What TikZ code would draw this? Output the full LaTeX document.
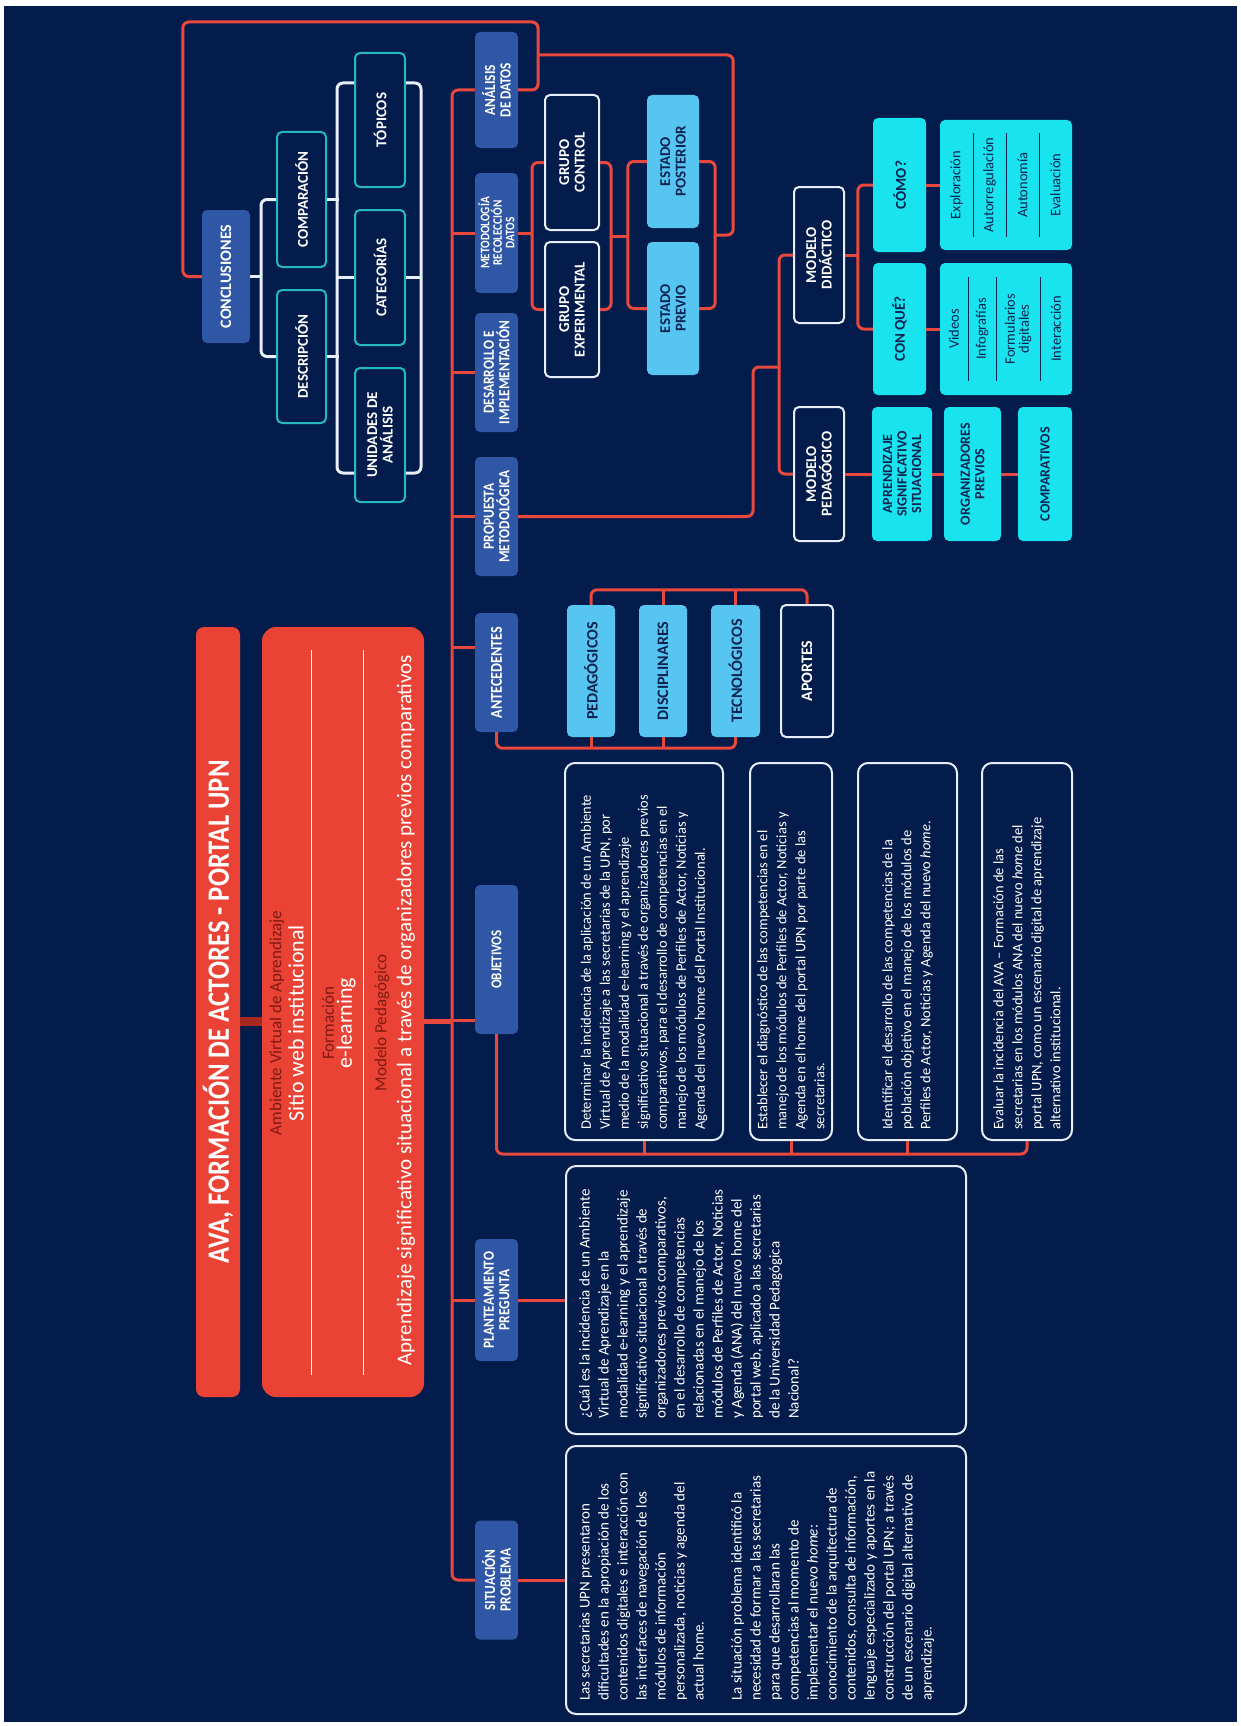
\documentclass[tikz,border=0pt]{standalone}
\usepackage{fontspec}
\setmainfont{Carlito}
\newfontfamily\condfont[FakeStretch=0.86]{Carlito}
\usetikzlibrary{calc}
\hyphenpenalty=10000

\definecolor{bgnavy}{HTML}{041C4B}
\definecolor{topicblue}{HTML}{2F57A6}
\definecolor{skyfill}{HTML}{57C5F2}
\definecolor{cyanfill}{HTML}{18E3EE}
\definecolor{branchred}{HTML}{E8483D}
\definecolor{titlered}{HTML}{EA4335}
\definecolor{darkred}{HTML}{7E1A12}
\definecolor{joinred}{HTML}{A8281F}
\definecolor{inknavy}{HTML}{0D2350}
\definecolor{tealline}{HTML}{26B7C4}
\definecolor{paleline}{HTML}{E6EEF8}

\begin{document}
\begin{tikzpicture}[x=1pt, y=-1pt,
  box/.style={rotate=90, align=center, inner sep=2pt, rounded corners=5pt},
  topic/.style={box, fill=topicblue, text=white, minimum width=119, minimum height=43, font=\condfont\bfseries\fontsize{15.5}{15.5}\selectfont},
  outbox/.style={box, fill=bgnavy, draw=paleline, line width=2pt, text=white, font=\bfseries\fontsize{15}{15.5}\selectfont},
  tealbox/.style={outbox, draw=tealline},
  skybox/.style={box, fill=skyfill, text=inknavy, font=\bfseries\fontsize{16}{16}\selectfont},
  cyanbox/.style={box, fill=cyanfill, text=inknavy, font=\bfseries\fontsize{14}{14.5}\selectfont},
  textbox/.style={rotate=90, fill=bgnavy, draw=paleline, line width=2pt, rounded corners=10pt},
  bodytext/.style={rotate=90, anchor=north west, align=left, inner sep=0pt, text=white, font=\fontsize{15}{19}\selectfont},
  sublabel/.style={rotate=90, text=darkred, font=\fontsize{17}{17}\selectfont},
  subvalue/.style={rotate=90, text=white, font=\fontsize{22}{22}\selectfont},
  listitem/.style={rotate=90, align=center, text=inknavy, font=\fontsize{14.5}{14}\selectfont},
  divider/.style={draw=inknavy, line width=1pt},
  branch/.style={draw=branchred, line width=3pt, rounded corners=6pt},
  wline/.style={draw=paleline, line width=3pt, rounded corners=6pt}]

\useasboundingbox (0,0) rectangle (1241,1726);
\fill[white] (0,0) rectangle (1241,1726);
\fill[bgnavy] (4,6) rectangle (1237,1722);

% central topic

\node[box, fill=titlered, text=white, rounded corners=8pt, minimum width=770, minimum height=44, font=\condfont\bfseries\fontsize{31}{31}\selectfont] (tit) at (218,1012) {AVA, FORMACIÓN DE ACTORES - PORTAL UPN};
\node[box, fill=titlered, rounded corners=14pt, minimum width=770, minimum height=162] (cen) at (343,1012) {};
\node[sublabel] at (277,1023) {Ambiente Virtual de Aprendizaje};
\node[subvalue] at (296,1023) {Sitio web institucional};
\node[sublabel] at (328,1023) {Formación};
\node[subvalue] at (346,1023) {e-learning};
\node[sublabel] at (382,1023) {Modelo Pedagógico};
\node[subvalue, font=\fontsize{21}{21}\selectfont] at (406,1010) {Aprendizaje significativo situacional a través de organizadores previos comparativos};
\draw[white, line width=0.8pt] (311,650) -- (311,1375);
\draw[white, line width=0.8pt] (363,650) -- (363,1375);

% conclusiones

\node[box, fill=topicblue, text=white, minimum width=133, minimum height=48, font=\bfseries\fontsize{16}{16}\selectfont] (con) at (226,276.5) {CONCLUSIONES};
\node[tealbox, minimum width=135, minimum height=49] (comp) at (301.5,199.5) {COMPARACIÓN};
\node[tealbox, minimum width=133, minimum height=49] (desc) at (301.5,356.5) {DESCRIPCIÓN};
\node[tealbox, minimum width=134, minimum height=50] (topi) at (380,120) {TÓPICOS};
\node[tealbox, minimum width=135, minimum height=50] (cat) at (380,277.5) {CATEGORÍAS};
\node[tealbox, minimum width=134, minimum height=50] (uni) at (380,435) {UNIDADES DE\\ANÁLISIS};

% main topics

\coordinate (trunk) at (452,0);
\node[topic, minimum width=116] (ana) at (496.5,90) {ANÁLISIS\\DE DATOS};
\node[topic, minimum width=120, font=\condfont\bfseries\fontsize{13}{12.5}\selectfont] (met) at (496.5,233) {METODOLOGÍA\\RECOLECCIÓN\\DATOS};
\node[topic] (des) at (496.5,372.5) {DESARROLLO E\\IMPLEMENTACIÓN};
\node[topic] (pro) at (496.5,516.5) {PROPUESTA\\METODOLÓGICA};
\node[topic, font=\condfont\bfseries\fontsize{16.5}{16.5}\selectfont] (ant) at (496.5,672.5) {ANTECEDENTES};
\node[topic, minimum width=149, font=\condfont\bfseries\fontsize{15}{15}\selectfont] (obj) at (496.5,959.5) {OBJETIVOS};
\node[topic, minimum width=122] (pla) at (496.5,1300) {PLANTEAMIENTO\\PREGUNTA};
\node[topic] (sit) at (496.5,1580) {SITUACIÓN\\PROBLEMA};

% metodologia

\node[outbox, minimum width=135, minimum height=54] (gc) at (572,162.5) {GRUPO\\CONTROL};
\node[outbox, minimum width=135, minimum height=54] (ge) at (572,309.5) {GRUPO\\EXPERIMENTAL};
\node[skybox, minimum width=133, minimum height=52, font=\bfseries\fontsize{15}{15.5}\selectfont] (ep) at (673,161.5) {ESTADO\\POSTERIOR};
\node[skybox, minimum width=133, minimum height=52, font=\bfseries\fontsize{15}{15.5}\selectfont] (epr) at (673,308.5) {ESTADO\\PREVIO};

% modelos

\node[outbox, minimum width=136, minimum height=50] (md) at (819,255) {MODELO\\DIDÁCTICO};
\node[outbox, minimum width=134, minimum height=50] (mp) at (819,474) {MODELO\\PEDAGÓGICO};
\node[cyanbox, minimum width=134, minimum height=53, font=\bfseries\fontsize{15}{15}\selectfont] (como) at (899.5,185) {CÓMO?};
\node[cyanbox, minimum width=132, minimum height=53, font=\bfseries\fontsize{15}{15}\selectfont] (conq) at (899.5,329) {CON QUÉ?};
\node[cyanbox, minimum width=130, minimum height=132] (l1) at (1006,185) {};
\node[cyanbox, minimum width=132, minimum height=132] (l2) at (1006,329) {};
\node[cyanbox, minimum width=134, minimum height=60] (apr) at (902,474) {APRENDIZAJE\\SIGNIFICATIVO\\SITUACIONAL};
\node[cyanbox, minimum width=134, minimum height=57] (org) at (972.5,474) {ORGANIZADORES\\PREVIOS};
\node[cyanbox, minimum width=134, minimum height=54] (cmp) at (1045,474) {COMPARATIVOS};

\node[listitem] at (956.5,185) {Exploración};
\node[listitem] at (989.5,185) {Autorregulación};
\node[listitem] at (1022.5,185) {Autonomía};
\node[listitem] at (1055.5,185) {Evaluación};
\draw[divider] (973,133) -- (973,237);
\draw[divider] (1006,133) -- (1006,237);
\draw[divider] (1039,133) -- (1039,237);

\node[listitem] at (954,329) {Videos};
\node[listitem] at (982,329) {Infografías};
\node[listitem] at (1018,329) {Formularios\\digitales};
\node[listitem] at (1056,329) {Interacción};
\draw[divider] (968,277) -- (968,381);
\draw[divider] (996,277) -- (996,381);
\draw[divider] (1040,277) -- (1040,381);

% antecedentes

\node[skybox, minimum width=132, minimum height=48] (ped) at (591,671) {PEDAGÓGICOS};
\node[skybox, minimum width=132, minimum height=48] (dis) at (663,671) {DISCIPLINARES};
\node[skybox, minimum width=132, minimum height=49] (tec) at (735.5,671) {TECNOLÓGICOS};
\node[outbox, minimum width=132, minimum height=52, font=\bfseries\fontsize{16}{16}\selectfont] (apo) at (807,671) {APORTES};

% objetivos

\node[textbox, minimum width=377, minimum height=158] (o1) at (644,951.5) {};
\node[textbox, minimum width=377, minimum height=82] (o2) at (791,951.5) {};
\node[textbox, minimum width=377, minimum height=99] (o3) at (907.5,951.5) {};
\node[textbox, minimum width=377, minimum height=90] (o4) at (1027,951.5) {};
\node[bodytext, anchor=west, font=\fontsize{14.5}{19}\selectfont] at ([yshift=11pt]o1.west) {Determinar la incidencia de la aplicación de un Ambiente\\Virtual de Aprendizaje a las secretarias de la UPN, por\\medio de la modalidad e-learning y el aprendizaje\\significativo situacional a través de organizadores previos\\comparativos, para el desarrollo de competencias en el\\manejo de los módulos de Perfiles de Actor, Noticias y\\Agenda del nuevo home del Portal Institucional.};
\node[bodytext, anchor=west, font=\fontsize{14.5}{19}\selectfont] at ([yshift=11pt]o2.west) {Establecer el diagnóstico de las competencias en el\\manejo de los módulos de Perfiles de Actor, Noticias y\\Agenda en el home del portal UPN por parte de las\\secretarias.};
\node[bodytext, anchor=west, font=\fontsize{14.5}{19}\selectfont] at ([yshift=11pt]o3.west) {Identificar el desarrollo de las competencias de la\\población objetivo en el manejo de los módulos de\\Perfiles de Actor, Noticias y Agenda del nuevo \textit{home}.};
\node[bodytext, anchor=west, font=\fontsize{14.5}{19}\selectfont] at ([yshift=11pt]o4.west) {Evaluar la incidencia del AVA – Formación de las\\secretarias en los módulos ANA del nuevo \textit{home} del\\portal UPN, como un escenario digital de aprendizaje\\alternativo institucional.};

% pregunta y situacion

\node[textbox, minimum width=268, minimum height=400] (q) at (766,1300) {};
\node[bodytext] at ([shift={(14,-16)}]q.north west) {¿Cuál es la incidencia de un Ambiente\\Virtual de Aprendizaje en la\\modalidad e-learning y el aprendizaje\\significativo situacional a través de\\organizadores previos comparativos,\\en el desarrollo de competencias\\relacionadas en el manejo de los\\módulos de Perfiles de Actor, Noticias\\y Agenda (ANA) del nuevo home del\\portal web, aplicado a las secretarias\\de la Universidad Pedagógica\\Nacional?};
\node[textbox, minimum width=268, minimum height=400] (s) at (766,1580) {};
\node[bodytext] at ([shift={(14,-14)}]s.north west) {Las secretarias UPN presentaron\\dificultades en la apropiación de los\\contenidos digitales e interacción con\\las interfaces de navegación de los\\módulos de información\\personalizada, noticias y agenda del\\actual home.\\[19pt]La situación problema identificó la\\necesidad de formar a las secretarias\\para que desarrollaran las\\competencias al momento de\\implementar el nuevo \textit{home}:\\conocimiento de la arquitectura de\\contenidos, consulta de información,\\lenguaje especializado y aportes en la\\construcción del portal UPN; a través\\de un escenario digital alternativo de\\aprendizaje.};

% connectors

\draw[joinred, line width=9pt] ([yshift=-9pt]tit.south) -- ([yshift=-9pt]cen.north);
\draw[branch, line width=5pt] ([yshift=-9pt]cen.south) -- ([yshift=-9pt]cen.south -| trunk);
\draw[branch] (ana.north) -| (trunk |- sit.north) -- (sit.north);
\draw[branch] (met.north) -- (met.north -| trunk);
\draw[branch] (des.north) -- (des.north -| trunk);
\draw[branch] (pro.north) -- (pro.north -| trunk);
\draw[branch] ([yshift=25pt]ant.north) -- ([yshift=25pt]ant.north -| trunk);
\draw[branch] ([yshift=-61pt]obj.north) -- ([yshift=-61pt]obj.north -| trunk);
\draw[branch] (pla.north) -- (pla.north -| trunk);

\draw[branch] (ana.south) -| (538,22) -| ([xshift=-19pt]con.north) -- (con.north);
\coordinate (cj) at (538,55);

\draw[wline] (con.south) -- ++(12,0);
\draw[wline] (comp.north) -- ++(-15,0) |- (desc.north);
\draw[wline] (comp.south) -- ++(12,0);
\draw[wline] (desc.south) -- ++(12,0);
\draw[wline] ([yshift=37pt]topi.north) -- ++(-17,0) |- ([yshift=-38pt]uni.north);
\draw[wline] (cat.north) -- ++(-17,0);
\draw[wline] ([yshift=37pt]topi.south) -- ++(15,0) |- ([yshift=-38pt]uni.south);
\draw[wline] (cat.south) -- ++(15,0);

\draw[branch] (met.south) -- ++(15,0);
\draw[branch] (gc.north) -- ++(-12,0) |- (ge.north);
\draw[branch] (gc.south) -- ++(11,0) |- (ge.south);
\draw[branch] ($(gc.south)!0.5!(ge.south)$) ++(11,0) -- ++(18,0);
\draw[branch] (ep.north) -- ++(-19,0) |- (epr.north);
\draw[branch] (ep.south) -- ++(16,0) |- (epr.south);
\draw[branch] ($(ep.south)!0.5!(epr.south)$) ++(16,0) -- ++(18,0) |- (cj);

\draw[branch] (pro.south) -| (753,367) -- ++(27,0);
\draw[branch] (md.north) -- ++(-14,0) |- (mp.north);
\draw[branch] (md.south) -- ++(14,0);
\draw[branch] (como.north) -- ++(-15,0) |- (conq.north);
\draw[branch] (como.south) -- (l1.north);
\draw[branch] (conq.south) -- (l2.north);
\draw[branch] (mp.south) -- (apr.north);
\draw[branch] (apr.south) -- (org.north);
\draw[branch] (org.south) -- (cmp.north);

\draw[branch] (ant.west) |- ([yshift=-11pt]tec.west) -- (tec.west);
\draw[branch] (ped.west) -- ++(0,11);
\draw[branch] (dis.west) -- ++(0,11);
\draw[branch] (ped.east) -- ++(0,-15) -| (apo.east);
\draw[branch] (dis.east) -- ++(0,-15);
\draw[branch] (tec.east) -- ++(0,-15);

\draw[branch] (obj.west) |- ([yshift=-13pt]o4.west) -- (o4.west);
\draw[branch] (o1.west) -- ++(0,13);
\draw[branch] (o2.west) -- ++(0,13);
\draw[branch] (o3.west) -- ++(0,13);

\draw[branch] (pla.south) -- (q.north);
\draw[branch] (sit.south) -- (s.north);

\end{tikzpicture}
\end{document}
